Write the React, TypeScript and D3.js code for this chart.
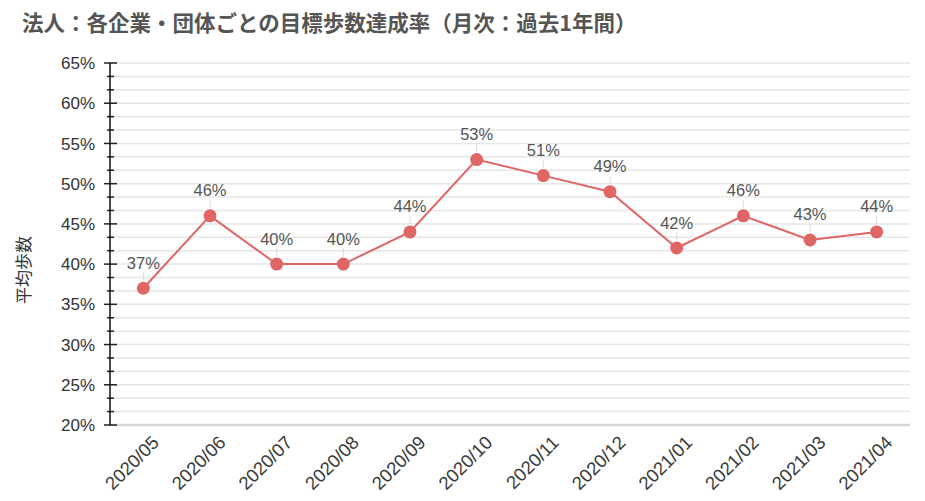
import React from "react";
import * as d3 from "d3";

const months = ["2020/05","2020/06","2020/07","2020/08","2020/09","2020/10","2020/11","2020/12","2021/01","2021/02","2021/03","2021/04"];
const rates = [37, 46, 40, 40, 44, 53, 51, 49, 42, 46, 43, 44];
const yTicks = [20, 25, 30, 35, 40, 45, 50, 55, 60, 65];
const title = "法人：各企業・団体ごとの目標歩数達成率（月次：過去1年間）";
const yTitle = "平均歩数";

export default function App() {
  const W = 925, H = 501;
  const left = 110, right = 910, top = 63, bottom = 425;
  const x = d3.scaleBand<string>().domain(months).range([left, right]);
  const y = d3.scaleLinear().domain([20, 65]).range([bottom, top]);
  const minor: number[] = [];
  for (let v = 20; v <= 65.001; v += 5 / 3) minor.push(v);
  const line = d3.line<number>()
    .x((_, i) => (x(months[i]) as number) + x.bandwidth() / 2)
    .y((d) => y(d));
  const font = "'Liberation Sans', Arial, 'Noto Sans CJK JP', sans-serif";
  const cjk = "'Noto Sans CJK JP', sans-serif";
  const color = "#e06666";
  return (
    <svg width={W} height={H} style={{ position: "absolute", left: 0, top: 0, fontFamily: font }}>
      <text x={22} y={31} fontSize={21.5} fontWeight="bold" fill="#555" fontFamily={cjk}>{title}</text>
      {minor.map((v, i) => (
        <line key={"g" + i} x1={left} x2={right} y1={y(v)} y2={y(v)} stroke={i === 0 ? "#d8d8d8" : "#e6e6e6"} strokeWidth={i === 0 ? 2.5 : 1.5} />
      ))}
      {minor.map((v, i) => {
        const major = Math.abs(Math.round(v) - v) < 0.01 && Math.round(v) % 5 === 0;
        return (
          <line key={"t" + i} x1={major ? left - 6 : left - 3} x2={major ? left + 7 : left + 4} y1={y(v)} y2={y(v)} stroke="#222" strokeWidth={1.5} />
        );
      })}
      <line x1={left} x2={left} y1={top} y2={bottom} stroke="#111" strokeWidth={1.5} />
      {yTicks.map((v) => (
        <text key={"yl" + v} x={95} y={y(v)} dy="0.36em" textAnchor="end" fontSize={17} fill="#333">{v}%</text>
      ))}
      <text transform={`translate(30, 270) rotate(-90)`} textAnchor="middle" fontSize={17} fill="#333" fontFamily={cjk}>{yTitle}</text>
      {months.map((m) => {
        const cx = (x(m) as number) + x.bandwidth() / 2;
        return (
          <text key={m} transform={`translate(${cx + 7}, ${bottom + 9}) rotate(-45)`} textAnchor="end" dy="0.75em" fontSize={18.5} fill="#3a3a3a">{m}</text>
        );
      })}
      <path d={line(rates) || ""} fill="none" stroke={color} strokeWidth={2} />
      {rates.map((v, i) => {
        const cx = (x(months[i]) as number) + x.bandwidth() / 2;
        const cy = y(v);
        return (
          <g key={"p" + i}>
            <line x1={cx} x2={cx} y1={cy - 16} y2={cy - 8} stroke="#ddd" strokeWidth={1} />
            <circle cx={cx} cy={cy} r={6.5} fill={color} />
            <text x={cx} y={cy - 19.5} textAnchor="middle" fontSize={16.5} fill="#555">{v}%</text>
          </g>
        );
      })}
    </svg>
  );
}
